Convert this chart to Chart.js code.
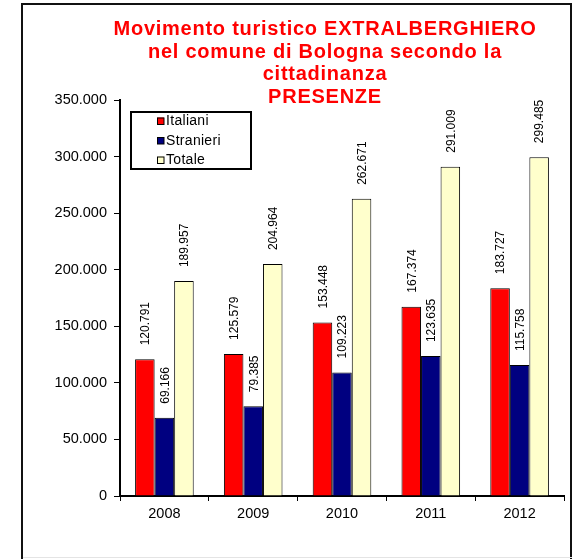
<!DOCTYPE html>
<html>
<head>
<meta charset="utf-8">
<script src="https://cdn.jsdelivr.net/npm/chart.js@4.4.1/dist/chart.umd.min.js"></script>
<style>
html,body{margin:0;padding:0;background:#fff;overflow:hidden;}
#wrap{position:relative;width:577px;height:559px;}
#frame{position:absolute;left:21px;top:3px;width:551px;height:600px;border:2px solid #111;box-sizing:border-box;pointer-events:none;}
#bline{position:absolute;left:23px;top:557px;width:549px;height:1px;background:#e4e4e4;}
canvas{position:absolute;left:0;top:0;}
</style>
</head>
<body>
<div id="wrap">
<canvas id="c" width="577" height="559"></canvas>
<div id="frame"></div>
<div id="bline"></div>
</div>
<script>
const categories = ['2008', '2009', '2010', '2011', '2012'];
const seriesNames = ['Italiani', 'Stranieri', 'Totale'];
const italiani = [120791, 125579, 153448, 167374, 183727];
const stranieri = [69166, 79385, 109223, 123635, 115758];
const totale = [189957, 204964, 262671, 291009, 299485];
const titleLines = ['Movimento turistico EXTRALBERGHIERO', 'nel comune di Bologna secondo la', 'cittadinanza', 'PRESENZE'];
const yMin = 0, yMax = 350000, yStep = 50000;

const FONT = '"Liberation Sans", Arial, Helvetica, sans-serif';
function fmt(v){ return String(Math.round(v)).replace(/\B(?=(\d{3})+(?!\d))/g, '.'); }

const titlePlugin = {
  id: 'customTitle',
  afterDraw(chart){
    const ctx = chart.ctx;
    ctx.save();
    ctx.fillStyle = '#ff0000';
    ctx.font = 'bold 20px ' + FONT;
    try { ctx.letterSpacing = '0.75px'; } catch (e) {}
    ctx.textAlign = 'center';
    ctx.textBaseline = 'middle';
    const ys = [29, 52, 74.5, 97];
    titleLines.forEach((t, i) => ctx.fillText(t, 325, ys[i]));
    ctx.restore();
  }
};

const legendPlugin = {
  id: 'customLegend',
  afterDraw(chart){
    const ctx = chart.ctx;
    ctx.save();
    ctx.fillStyle = '#fff';
    ctx.fillRect(131, 112, 120, 57);
    ctx.strokeStyle = '#000';
    ctx.lineWidth = 2;
    ctx.strokeRect(131, 112, 120, 57);
    const rows = [121, 140.5, 160];
    ctx.font = '14px ' + FONT;
    try { ctx.letterSpacing = '0.3px'; } catch (e) {}
    ctx.textBaseline = 'middle';
    ctx.textAlign = 'left';
    chart.data.datasets.forEach((ds, i) => {
      const y = rows[i];
      ctx.fillStyle = ds.backgroundColor;
      ctx.fillRect(157, y - 3.5, 7, 7);
      ctx.lineWidth = 1;
      ctx.strokeStyle = '#000';
      ctx.strokeRect(157.5, y - 3, 6.5, 6.5);
      ctx.fillStyle = '#000';
      ctx.fillText(ds.label, 166, y + 0.5);
    });
    ctx.restore();
  }
};

const labelPlugin = {
  id: 'barLabels',
  afterDatasetsDraw(chart){
    const ctx = chart.ctx;
    ctx.save();
    ctx.font = '12px ' + FONT;
    ctx.fillStyle = '#000';
    ctx.textAlign = 'left';
    ctx.textBaseline = 'middle';
    chart.data.datasets.forEach((ds, di) => {
      const meta = chart.getDatasetMeta(di);
      meta.data.forEach((el, i) => {
        ctx.save();
        ctx.translate(el.x + 1, el.y - 14);
        ctx.rotate(-Math.PI / 2);
        ctx.fillText(fmt(ds.data[i]), 0, 0);
        ctx.restore();
      });
    });
    ctx.restore();
  }
};

new Chart(document.getElementById('c'), {
  type: 'bar',
  data: {
    labels: categories,
    datasets: [
      { label: seriesNames[0], data: italiani, backgroundColor: '#ff0000', borderColor: '#000', borderWidth: 1 },
      { label: seriesNames[1], data: stranieri, backgroundColor: '#000080', borderColor: '#000', borderWidth: 1 },
      { label: seriesNames[2], data: totale, backgroundColor: '#ffffcc', borderColor: '#000', borderWidth: 1 }
    ]
  },
  options: {
    responsive: false,
    animation: false,
    devicePixelRatio: 1,
    layout: { padding: { left: 50, right: 13, top: 100, bottom: 33 } },
    datasets: { bar: { categoryPercentage: 0.66, barPercentage: 1.0 } },
    plugins: { legend: { display: false }, title: { display: false }, tooltip: { enabled: false } },
    scales: {
      x: {
        afterFit(s){ s.height = 30; },
        grid: { display: true, drawOnChartArea: false, drawTicks: true, tickLength: 5, color: '#000', lineWidth: 1, offset: true },
        border: { display: true, color: '#000', width: 2 },
        ticks: { color: '#000', font: { family: FONT, size: 14.5 }, padding: 4, maxRotation: 0 }
      },
      y: {
        min: yMin, max: yMax,
        afterFit(s){ s.width = 70; },
        grid: { display: true, drawOnChartArea: false, drawTicks: true, tickLength: 6, color: '#000', lineWidth: 1 },
        border: { display: true, color: '#000', width: 2 },
        ticks: { stepSize: yStep, color: '#000', font: { family: FONT, size: 14.5 }, padding: 7, callback: v => fmt(v) }
      }
    }
  },
  plugins: [titlePlugin, legendPlugin, labelPlugin]
});
</script>
</body>
</html>
